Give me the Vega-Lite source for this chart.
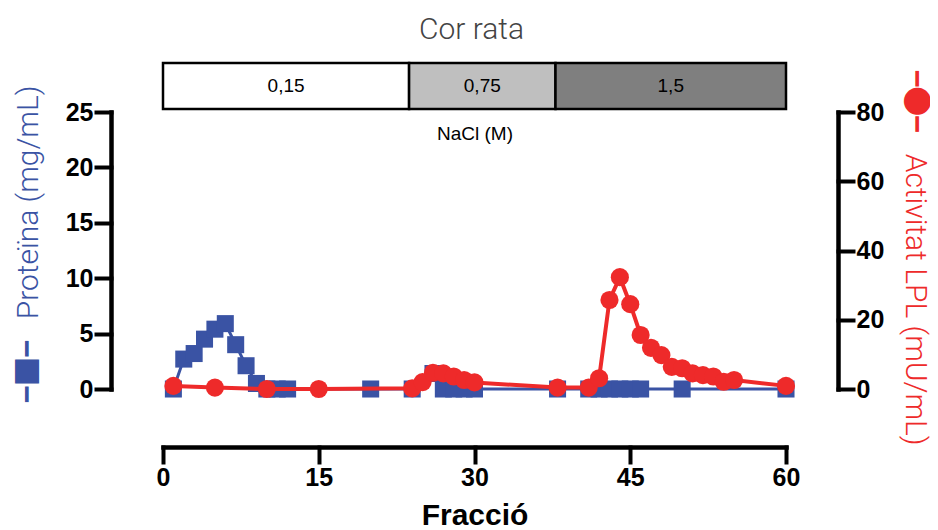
{
  "$schema": "https://vega.github.io/schema/vega-lite/v6.json",
  "background": "white",
  "padding": {"left": 13, "top": 14, "right": 0, "bottom": 0},
  "title": {
    "text": "Cor rata",
    "font": "Roboto",
    "fontWeight": 300,
    "fontSize": 30,
    "color": "#444444",
    "anchor": "middle",
    "offset": 11
  },
  "datasets": {
    "salt": [
      {"nacl": "0,15", "start": 0, "end": 23.7},
      {"nacl": "0,75", "start": 23.7, "end": 37.8},
      {"nacl": "1,5", "start": 37.8, "end": 60}
    ],
    "protein": [
      {"fraction": 1, "protein": 0},
      {"fraction": 2, "protein": 2.7},
      {"fraction": 3, "protein": 3.2},
      {"fraction": 4, "protein": 4.5},
      {"fraction": 5, "protein": 5.4},
      {"fraction": 6, "protein": 5.9},
      {"fraction": 7, "protein": 4.0},
      {"fraction": 8, "protein": 2.1},
      {"fraction": 9, "protein": 0.5},
      {"fraction": 10, "protein": 0},
      {"fraction": 11, "protein": 0},
      {"fraction": 12, "protein": 0},
      {"fraction": 20, "protein": 0},
      {"fraction": 24, "protein": 0},
      {"fraction": 26, "protein": 1.4},
      {"fraction": 27, "protein": 0},
      {"fraction": 28, "protein": 0},
      {"fraction": 29, "protein": 0},
      {"fraction": 30, "protein": 0},
      {"fraction": 38, "protein": 0},
      {"fraction": 41, "protein": 0},
      {"fraction": 42, "protein": 0},
      {"fraction": 43, "protein": 0},
      {"fraction": 44, "protein": 0},
      {"fraction": 45, "protein": 0},
      {"fraction": 46, "protein": 0},
      {"fraction": 50, "protein": 0},
      {"fraction": 60, "protein": 0}
    ],
    "activity": [
      {"fraction": 1, "activity": 0.9},
      {"fraction": 5, "activity": 0.4},
      {"fraction": 10, "activity": 0},
      {"fraction": 15, "activity": 0},
      {"fraction": 24, "activity": 0.2},
      {"fraction": 25, "activity": 2.0},
      {"fraction": 26, "activity": 4.7},
      {"fraction": 27, "activity": 4.5},
      {"fraction": 28, "activity": 3.6},
      {"fraction": 29, "activity": 2.6},
      {"fraction": 30, "activity": 1.9},
      {"fraction": 38, "activity": 0.4},
      {"fraction": 41, "activity": 0.4},
      {"fraction": 42, "activity": 3.1},
      {"fraction": 43, "activity": 25.7},
      {"fraction": 44, "activity": 32.3},
      {"fraction": 45, "activity": 24.5},
      {"fraction": 46, "activity": 15.6},
      {"fraction": 47, "activity": 11.9},
      {"fraction": 48, "activity": 9.8},
      {"fraction": 49, "activity": 6.4},
      {"fraction": 50, "activity": 6.0},
      {"fraction": 51, "activity": 4.5},
      {"fraction": 52, "activity": 4.0},
      {"fraction": 53, "activity": 3.6},
      {"fraction": 54, "activity": 2.1},
      {"fraction": 55, "activity": 2.6},
      {"fraction": 60, "activity": 0.9}
    ]
  },
  "bounds": "flush",
  "spacing": 3,
  "resolve": {"scale": {"x": "independent", "color": "independent"}},
  "vconcat": [
    {
      "width": 623,
      "height": 46,
      "data": {"name": "salt"},
      "transform": [{"calculate": "(datum.start + datum.end) / 2", "as": "mid"}],
      "layer": [
        {
          "mark": {"type": "rect", "stroke": "black", "strokeWidth": 2.5},
          "encoding": {
            "x": {
              "field": "start",
              "type": "quantitative",
              "scale": {"domain": [0, 60], "nice": false},
              "axis": {
                "title": "NaCl (M)",
                "labels": false,
                "ticks": false,
                "domain": false,
                "grid": false,
                "titleFont": "Liberation Sans",
                "titleFontSize": 19,
                "titleFontWeight": "normal",
                "titleColor": "black",
                "titlePadding": 15
              }
            },
            "x2": {"field": "end"},
            "color": {
              "field": "nacl",
              "type": "nominal",
              "scale": {"domain": ["0,15", "0,75", "1,5"], "range": ["#ffffff", "#bfbfbf", "#7f7f7f"]},
              "legend": null
            }
          }
        },
        {
          "mark": {"type": "text", "font": "Liberation Sans", "fontSize": 19, "color": "black"},
          "encoding": {
            "x": {"field": "mid", "type": "quantitative"},
            "text": {"field": "nacl"}
          }
        }
      ]
    },
    {
      "width": 623,
      "height": 277,
      "layer": [
        {
          "data": {"name": "protein"},
          "mark": {
            "type": "line",
            "color": "#3a53a4",
            "strokeWidth": 3,
            "point": {"shape": "square", "size": 290, "filled": true, "color": "#3a53a4", "opacity": 1}
          },
          "encoding": {
            "x": {
              "field": "fraction",
              "type": "quantitative",
              "scale": {"domain": [0, 60], "nice": false},
              "axis": {
                "values": [0, 15, 30, 45, 60],
                "offset": 58,
                "title": "Fracció",
                "titleFontSize": 30,
                "titlePadding": 10
              }
            },
            "y": {
              "field": "protein",
              "type": "quantitative",
              "scale": {"domain": [0, 25], "nice": false},
              "axis": {
                "orient": "left",
                "values": [0, 5, 10, 15, 20, 25],
                "offset": 52,
                "title": "╺■╸ Proteïna (mg/mL)",
                "titleFont": "Roboto, 'Noto Sans CJK JP'",
                "titleFontWeight": 300,
                "titleFontSize": 30,
                "titleColor": "#3a53a4",
                "titlePadding": 22
              }
            }
          }
        },
        {
          "data": {"name": "activity"},
          "mark": {
            "type": "line",
            "color": "#ee2a2a",
            "strokeWidth": 4,
            "point": {"shape": "circle", "size": 330, "filled": true, "color": "#ee2a2a", "opacity": 1}
          },
          "encoding": {
            "x": {"field": "fraction", "type": "quantitative"},
            "y": {
              "field": "activity",
              "type": "quantitative",
              "scale": {"domain": [0, 80], "nice": false},
              "axis": {
                "orient": "right",
                "values": [0, 20, 40, 60, 80],
                "offset": 52,
                "title": "╺●╸ Activitat LPL (mU/mL)",
                "titleFont": "Roboto, 'Noto Sans CJK JP'",
                "titleFontWeight": 300,
                "titleFontSize": 30,
                "titleColor": "#ee2a2a",
                "titlePadding": 16
              }
            }
          }
        }
      ],
      "resolve": {"scale": {"y": "independent"}}
    }
  ],
  "config": {
    "view": {"stroke": null},
    "axis": {
      "grid": false,
      "domainColor": "black",
      "domainWidth": 4.5,
      "domainCap": "square",
      "tickColor": "black",
      "tickWidth": 4,
      "tickSize": 15,
      "tickCap": "square",
      "labelFont": "Liberation Sans",
      "labelFontSize": 25,
      "labelFontWeight": "bold",
      "labelColor": "black",
      "labelPadding": 3,
      "labelFlush": false,
      "labelOverlap": false,
      "titleFont": "Liberation Sans",
      "titleFontWeight": "bold",
      "titleColor": "black"
    }
  }
}
